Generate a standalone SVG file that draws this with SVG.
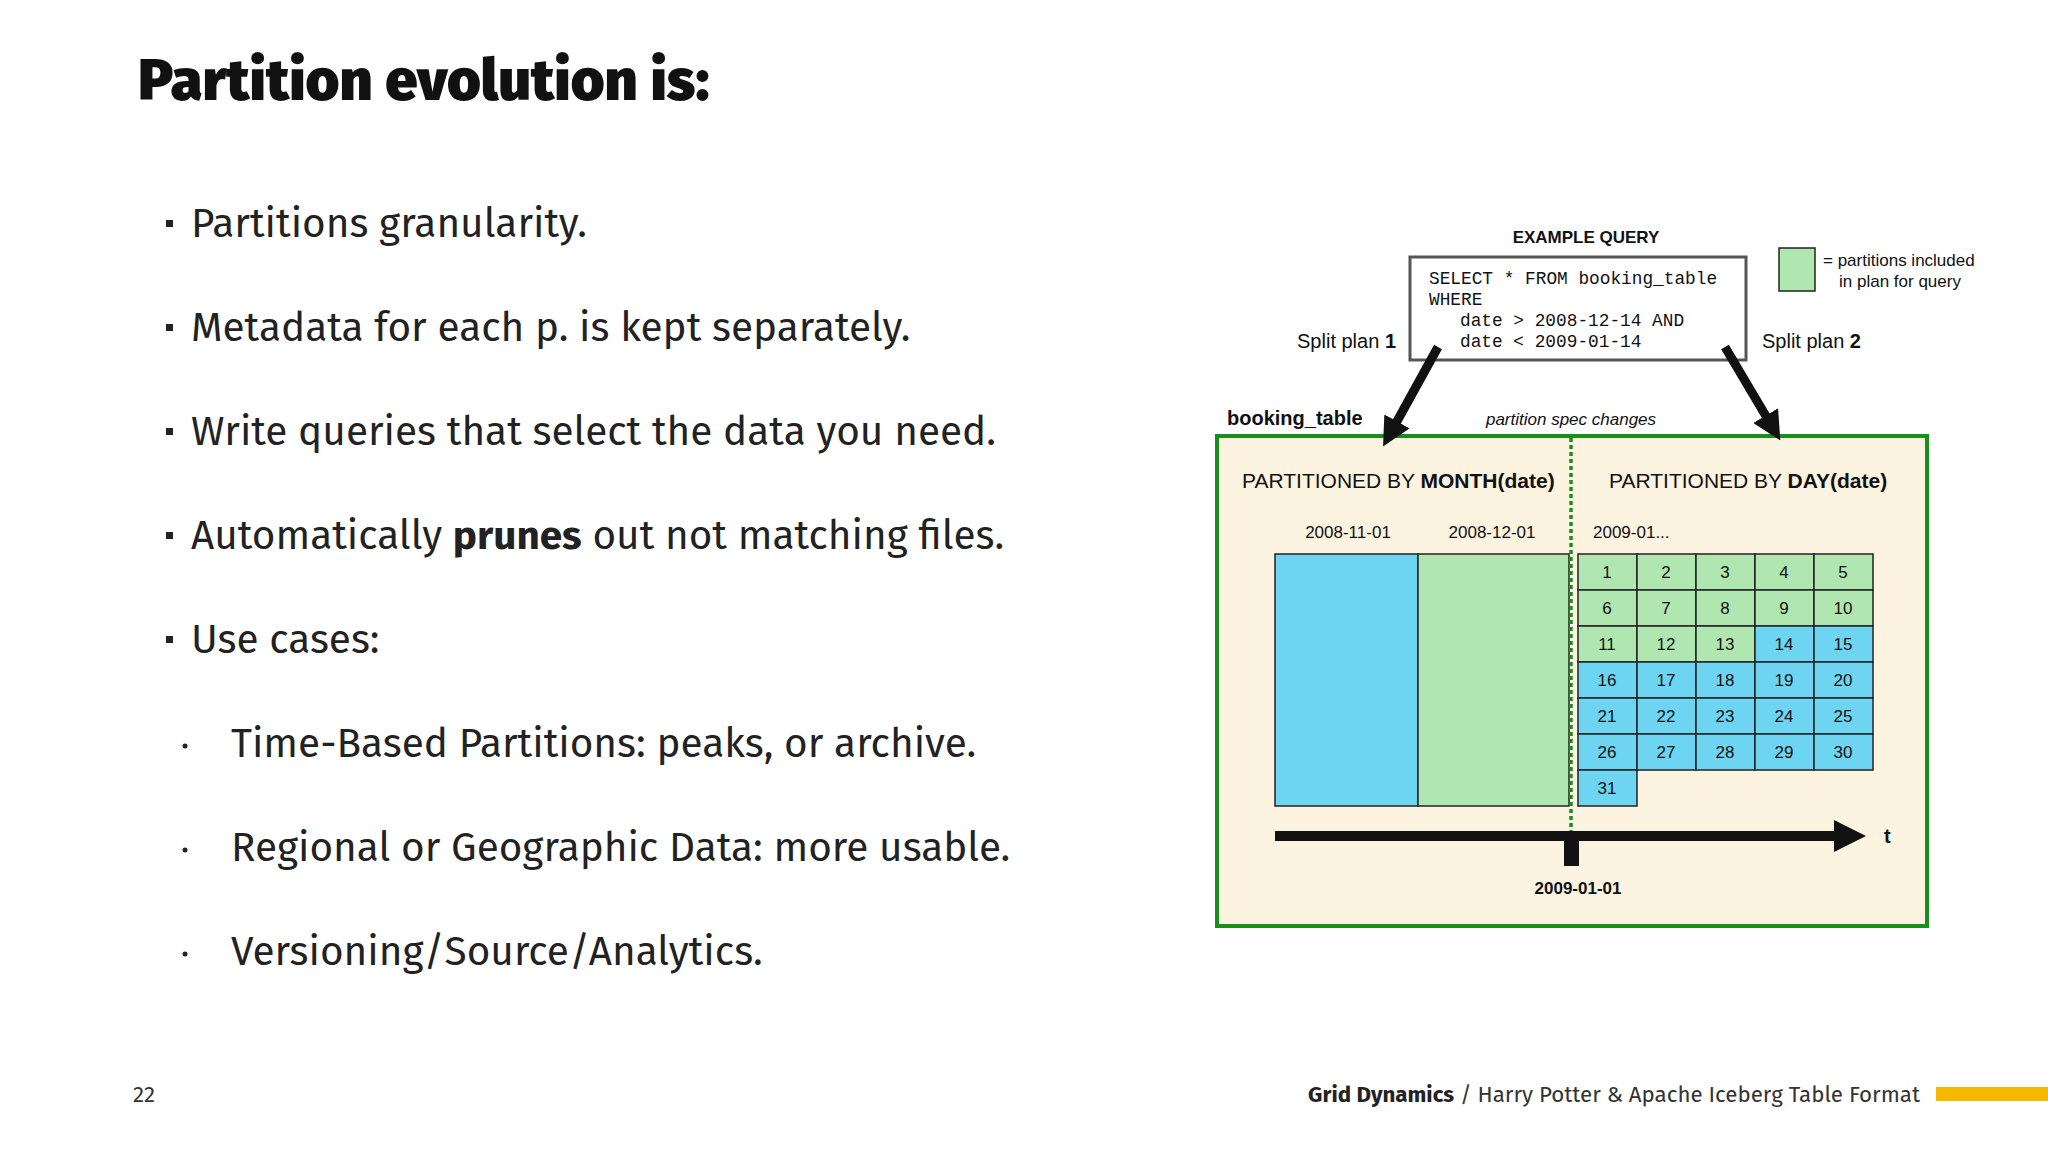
<svg xmlns="http://www.w3.org/2000/svg" width="2048" height="1152" viewBox="0 0 2048 1152">
<style>
.b{font-family:"Fira Sans","Noto Sans","Open Sans",sans-serif;font-size:40.5px;fill:#222}
.h{font-family:"Liberation Sans",Arial,sans-serif;fill:#111}
.m{font-family:"Liberation Mono","Courier New",monospace;font-size:17.8px;fill:#111}
.c text{font-family:"Liberation Sans",Arial,sans-serif;font-size:17px;text-anchor:middle;fill:#111}
.g{fill:#b0e6b0;stroke:#222;stroke-width:1.5}
.u{fill:#6dd5f2;stroke:#222;stroke-width:1.5}
</style>
<defs>
<marker id="ah" viewBox="0 0 10 10" refX="5" refY="5" markerWidth="3.2" markerHeight="3.2" orient="auto"><path d="M0,0L10,5L0,10z" fill="#111"/></marker>
</defs>
<rect width="2048" height="1152" fill="#fff"/>
<g id="title"><text x="138" y="100" font-family="Fira Sans,Noto Sans,sans-serif" font-weight="900" font-size="58" fill="#111">Partition evolution is:</text></g>
<g id="bullets">
<rect x="166" y="220" width="7" height="7" fill="#222"/><text class="b" x="191" y="237">Partitions granularity.</text>
<rect x="166" y="324" width="7" height="7" fill="#222"/><text class="b" x="191" y="341">Metadata for each p. is kept separately.</text>
<rect x="166" y="428" width="7" height="7" fill="#222"/><text class="b" x="191" y="445">Write queries that select the data you need.</text>
<rect x="166" y="532" width="7" height="7" fill="#222"/><text class="b" x="191" y="549">Automatically <tspan font-weight="bold">prunes</tspan> out not matching files.</text>
<rect x="166" y="636" width="7" height="7" fill="#222"/><text class="b" x="191" y="653">Use cases:</text>
<circle cx="185" cy="746" r="2.5" fill="#222"/><text class="b" x="231" y="757">Time-Based Partitions: peaks, or archive.</text>
<circle cx="185" cy="850" r="2.5" fill="#222"/><text class="b" x="231" y="861">Regional or Geographic Data: more usable.</text>
<circle cx="185" cy="954" r="2.5" fill="#222"/><text class="b" x="231" y="965">Versioning/Source/Analytics.</text>
</g>
<g id="footer" font-family="Fira Sans,Noto Sans,sans-serif" font-size="22.3" fill="#333">
<text x="133" y="1102">22</text>
<text x="1920" y="1102" text-anchor="end"><tspan font-weight="bold" fill="#222">Grid Dynamics</tspan> / Harry Potter &amp; Apache Iceberg Table Format</text>
<rect x="1936" y="1087" width="112" height="14" fill="#f5b800"/>
</g>
<g id="query">
<text class="h" x="1586" y="243" font-size="17" font-weight="bold" text-anchor="middle">EXAMPLE QUERY</text>
<rect x="1410" y="257" width="336" height="103" fill="#fff" stroke="#555" stroke-width="3"/>
<text class="m" x="1429" y="284">SELECT * FROM booking_table</text>
<text class="m" x="1429" y="305">WHERE</text>
<text class="m" x="1460" y="326">date &gt; 2008-12-14 AND</text>
<text class="m" x="1460" y="347">date &lt; 2009-01-14</text>
</g>
<g id="legend">
<rect x="1779" y="248" width="36" height="43" class="g"/>
<text class="h" x="1823" y="266" font-size="17">= partitions included</text>
<text class="h" x="1839" y="287" font-size="17">in plan for query</text>
</g>
<g id="labels" class="h">
<text x="1396" y="348" font-size="20" text-anchor="end" class="h">Split plan <tspan font-weight="bold">1</tspan></text>
<text x="1762" y="348" font-size="20" class="h">Split plan <tspan font-weight="bold">2</tspan></text>
<text x="1227" y="425" font-size="20" font-weight="bold" class="h">booking_table</text>
<text x="1571" y="425" font-size="17" font-style="italic" text-anchor="middle" class="h">partition spec changes</text>
</g>
<g id="table">
<rect x="1217" y="436" width="710" height="490" fill="#fdf3e1" stroke="#16901a" stroke-width="4"/>
<text class="h" x="1242" y="488" font-size="21">PARTITIONED BY <tspan font-weight="bold">MONTH(date)</tspan></text>
<text class="h" x="1609" y="488" font-size="21">PARTITIONED BY <tspan font-weight="bold">DAY(date)</tspan></text>
<g class="c"><text x="1348" y="538">2008-11-01</text><text x="1492" y="538">2008-12-01</text><text x="1593" y="538" style="text-anchor:start">2009-01...</text></g>
<rect x="1275" y="554" width="143" height="252" class="u"/>
<rect x="1418" y="554" width="151" height="252" class="g"/>
<g id="days" class="c">
<rect x="1578" y="554" width="59" height="36" class="g"/><text x="1607" y="578">1</text>
<rect x="1637" y="554" width="59" height="36" class="g"/><text x="1666" y="578">2</text>
<rect x="1696" y="554" width="59" height="36" class="g"/><text x="1725" y="578">3</text>
<rect x="1755" y="554" width="59" height="36" class="g"/><text x="1784" y="578">4</text>
<rect x="1814" y="554" width="59" height="36" class="g"/><text x="1843" y="578">5</text>
<rect x="1578" y="590" width="59" height="36" class="g"/><text x="1607" y="614">6</text>
<rect x="1637" y="590" width="59" height="36" class="g"/><text x="1666" y="614">7</text>
<rect x="1696" y="590" width="59" height="36" class="g"/><text x="1725" y="614">8</text>
<rect x="1755" y="590" width="59" height="36" class="g"/><text x="1784" y="614">9</text>
<rect x="1814" y="590" width="59" height="36" class="g"/><text x="1843" y="614">10</text>
<rect x="1578" y="626" width="59" height="36" class="g"/><text x="1607" y="650">11</text>
<rect x="1637" y="626" width="59" height="36" class="g"/><text x="1666" y="650">12</text>
<rect x="1696" y="626" width="59" height="36" class="g"/><text x="1725" y="650">13</text>
<rect x="1755" y="626" width="59" height="36" class="u"/><text x="1784" y="650">14</text>
<rect x="1814" y="626" width="59" height="36" class="u"/><text x="1843" y="650">15</text>
<rect x="1578" y="662" width="59" height="36" class="u"/><text x="1607" y="686">16</text>
<rect x="1637" y="662" width="59" height="36" class="u"/><text x="1666" y="686">17</text>
<rect x="1696" y="662" width="59" height="36" class="u"/><text x="1725" y="686">18</text>
<rect x="1755" y="662" width="59" height="36" class="u"/><text x="1784" y="686">19</text>
<rect x="1814" y="662" width="59" height="36" class="u"/><text x="1843" y="686">20</text>
<rect x="1578" y="698" width="59" height="36" class="u"/><text x="1607" y="722">21</text>
<rect x="1637" y="698" width="59" height="36" class="u"/><text x="1666" y="722">22</text>
<rect x="1696" y="698" width="59" height="36" class="u"/><text x="1725" y="722">23</text>
<rect x="1755" y="698" width="59" height="36" class="u"/><text x="1784" y="722">24</text>
<rect x="1814" y="698" width="59" height="36" class="u"/><text x="1843" y="722">25</text>
<rect x="1578" y="734" width="59" height="36" class="u"/><text x="1607" y="758">26</text>
<rect x="1637" y="734" width="59" height="36" class="u"/><text x="1666" y="758">27</text>
<rect x="1696" y="734" width="59" height="36" class="u"/><text x="1725" y="758">28</text>
<rect x="1755" y="734" width="59" height="36" class="u"/><text x="1784" y="758">29</text>
<rect x="1814" y="734" width="59" height="36" class="u"/><text x="1843" y="758">30</text>
<rect x="1578" y="770" width="59" height="36" class="u"/><text x="1607" y="794">31</text>
</g>
<line x1="1571" y1="438" x2="1571" y2="862" stroke="#16901a" stroke-width="3.5" stroke-dasharray="4,3"/>
<rect x="1564" y="836" width="15" height="30" fill="#111"/>
<text class="h" x="1578" y="894" font-size="17" font-weight="bold" text-anchor="middle">2009-01-01</text>
<text class="h" x="1884" y="843" font-size="20" font-weight="bold">t</text>
</g>
<g id="connectors" stroke="#111" fill="none">
<line x1="1438" y1="347" x2="1390" y2="434" stroke-width="9" marker-end="url(#ah)"/>
<line x1="1725" y1="347" x2="1773" y2="428" stroke-width="9" marker-end="url(#ah)"/>
<line x1="1275" y1="836" x2="1850" y2="836" stroke-width="10" marker-end="url(#ah)"/>
</g>
</svg>
